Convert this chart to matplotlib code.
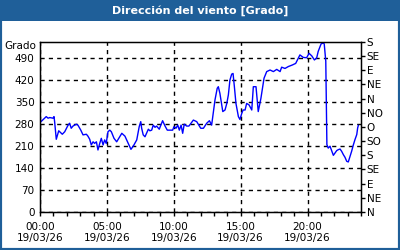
import matplotlib
matplotlib.use("Agg")
import matplotlib.pyplot as plt
from matplotlib.patches import Rectangle
from matplotlib.ticker import MultipleLocator, FixedLocator

# minutes since 00:00 on 19/03/26 and wind direction in degrees
minutes = [0, 28, 36, 44, 58, 63, 66, 73, 84, 93, 100, 111, 126, 133, 140, 148,
           163, 170, 183, 193, 208, 215, 223, 230, 238, 245, 253, 260, 268, 275,
           283, 290, 297, 305, 313, 320, 332, 344, 367, 381, 396, 408, 419, 434,
           445, 452, 456, 463, 471, 486, 493, 501, 508, 516, 523, 535, 550, 561,
           571, 583, 595, 601, 610, 618, 625, 633, 640, 647, 658, 668, 688, 703,
           721, 733, 748, 760, 770, 785, 795, 800, 807, 820, 830, 838, 845, 852,
           860, 866, 872, 879, 890, 897, 905, 911, 920, 927, 938, 950, 957, 969,
           979, 991, 1005, 1017, 1032, 1047, 1062, 1077, 1084, 1099, 1114, 1132,
           1147, 1166, 1181, 1196, 1207, 1219, 1231, 1241, 1248, 1261, 1271, 1275,
           1282, 1284, 1287, 1293, 1301, 1309, 1316, 1323, 1331, 1338, 1346, 1353,
           1361, 1368, 1376, 1383, 1391, 1398, 1406, 1413, 1421, 1425, 1428]
grado = [284, 303, 298, 300, 298, 303, 284, 231, 258, 252, 247, 255, 276, 282,
         266, 273, 279, 276, 260, 245, 247, 241, 231, 213, 223, 218, 223, 197,
         218, 234, 213, 229, 218, 255, 260, 255, 234, 223, 250, 241, 218, 199,
         210, 229, 271, 287, 266, 245, 239, 263, 258, 260, 276, 269, 273, 263,
         290, 273, 260, 260, 260, 271, 266, 276, 260, 276, 250, 279, 273, 273,
         292, 287, 266, 266, 282, 290, 276, 356, 393, 398, 377, 319, 324, 345,
         372, 419, 438, 440, 398, 345, 303, 294, 313, 324, 324, 345, 340, 324,
         398, 398, 319, 361, 425, 446, 451, 446, 453, 446, 460, 456, 462, 467,
         472, 499, 491, 490, 504, 496, 483, 489, 510, 534, 537, 534, 479, 362,
         214, 203, 209, 193, 180, 187, 195, 198, 200, 193, 182, 174, 161, 159,
         177, 193, 214, 230, 246, 267, 275]

hour_ticks = [0, 5, 10, 15, 20]
hour_labels = ["00:00\n19/03/26", "05:00\n19/03/26", "10:00\n19/03/26",
               "15:00\n19/03/26", "20:00\n19/03/26"]
deg_ticks = [0, 70, 140, 210, 280, 350, 420, 490]
rumbo = ["N", "NE", "E", "SE", "S", "SO", "O", "NO", "N", "NE", "E", "SE", "S"]

blue = "#1f5f99"
plt.rcParams["font.family"] = "DejaVu Sans"
plt.rcParams["font.size"] = 7.5

fig = plt.figure(figsize=(4, 2.5), dpi=100)
fig.patch.set_facecolor("white")

# frame and title bar
fig.patches.append(Rectangle((0, 0), 1, 1, transform=fig.transFigure,
                             facecolor="none", edgecolor=blue, lw=3, zorder=0))
fig.patches.append(Rectangle((0, 1 - 21 / 250), 1, 21 / 250, transform=fig.transFigure,
                             facecolor=blue, edgecolor="none", zorder=1))
fig.text(0.5, 1 - 10.5 / 250, "Dirección del viento [Grado]", color="white",
         ha="center", va="center", fontsize=8, fontweight="bold")

ax = fig.add_axes([40 / 400, 1 - 212 / 250, 321 / 400, 170 / 250])
hours = [m / 60 for m in minutes]
ax.plot(hours, grado, color="#0000ff", lw=1)

ax.set_xlim(0, 24)
ax.set_ylim(0, 540)
ax.set_xticks(hour_ticks)
ax.set_xticklabels(hour_labels)
ax.xaxis.set_minor_locator(MultipleLocator(1))
ax.set_yticks(deg_ticks)
ax.tick_params(axis="x", which="both", direction="out", length=3, width=1, pad=4)
ax.tick_params(axis="y", length=0, pad=4)
ax.grid(True, color="black", linestyle=(0, (3, 3)), lw=1)
for s in ax.spines.values():
    s.set_linewidth(1)
ax.text(-0.012, 527, "Grado", ha="right", va="center",
        transform=ax.get_yaxis_transform())

ax2 = ax.twinx()
ax2.set_ylim(0, 540)
ax2.yaxis.set_major_locator(FixedLocator(range(0, 541, 45)))
ax2.set_yticklabels(rumbo)
ax2.tick_params(axis="y", direction="out", length=3, width=1, pad=1)

fig.savefig("out.png", dpi=100)
